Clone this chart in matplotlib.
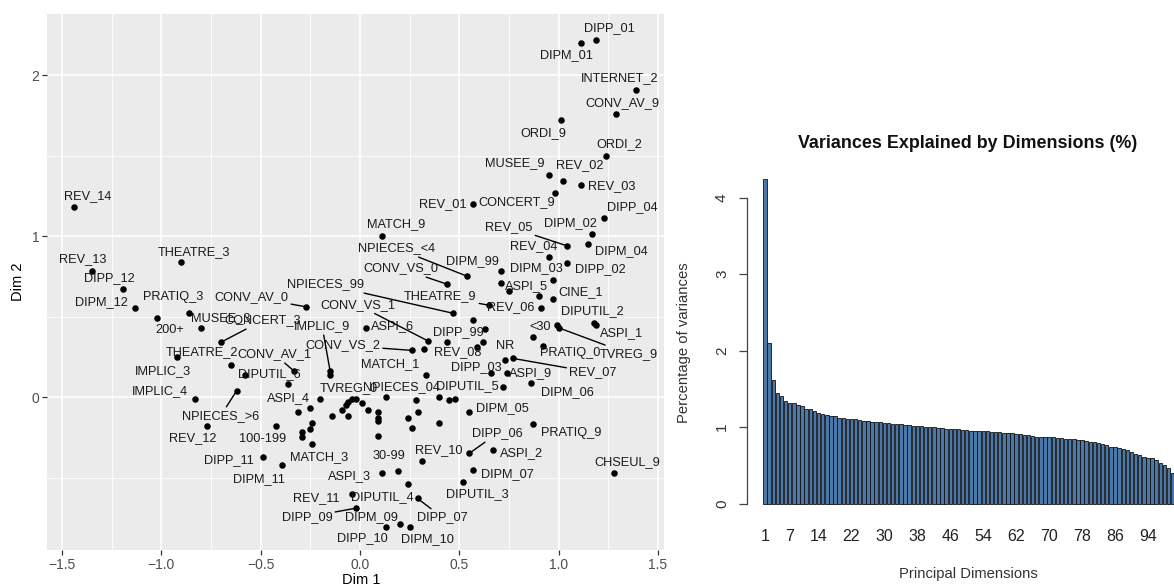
import matplotlib.pyplot as plt
from matplotlib.ticker import MultipleLocator

plt.rcParams['font.family'] = ['Liberation Sans', 'DejaVu Sans']

# Modalites projetees sur les dimensions 1 et 2
modalites = ["REV_14", "REV_13", "DIPP_12", "THEATRE_3", "DIPM_12", "200+", "PRATIQ_3", "MUSEE_3",
             "CONCERT_3", "CONV_AV_0", "THEATRE_2", "IMPLIC_3", "CONV_AV_1", "DIPUTIL_6", "IMPLIC_4",
             "NPIECES_>6", "REV_12", "100-199", "DIPP_11", "DIPM_11", "ASPI_4", "MATCH_3", "TVREG_0",
             "NPIECES_04", "DIPUTIL_5", "MATCH_1", "DIPP_03", "ASPI_9", "NR", "REV_07", "DIPM_06",
             "REV_08", "DIPP_99", "CONV_VS_2", "ASPI_6", "IMPLIC_9", "CONV_VS_1", "NPIECES_99",
             "THEATRE_9", "REV_06", "CONV_VS_0", "NPIECES_<4", "DIPM_99", "MATCH_9", "ASPI_5", "CINE_1",
             "DIPM_03", "DIPP_02", "REV_04", "DIPM_04", "DIPM_02", "REV_05", "DIPP_04", "REV_01",
             "CONCERT_9", "REV_03", "REV_02", "MUSEE_9", "ORDI_2", "ORDI_9", "CONV_AV_9", "INTERNET_2",
             "DIPM_01", "DIPP_01", "DIPUTIL_2", "ASPI_1", "<30", "TVREG_9", "PRATIQ_0", "DIPM_05",
             "PRATIQ_9", "DIPP_06", "REV_10", "ASPI_2", "CHSEUL_9", "DIPM_07", "DIPUTIL_3", "30-99",
             "ASPI_3", "REV_11", "DIPUTIL_4", "DIPP_07", "DIPP_09", "DIPM_09", "DIPP_10", "DIPM_10"]
dim1 = [-1.44, -1.35, -1.19, -0.90, -1.13, -1.02, -0.86, -0.80, -0.70, -0.27,
        -0.65, -0.92, -0.33, -0.36, -0.83, -0.62, -0.77, -0.42, -0.49, -0.39,
        -0.20, -0.24, -0.07, 0.13, 0.72, 0.33, 0.66, 0.74, 0.73, 0.77,
        0.86, 0.44, 0.63, 0.26, 0.03, -0.15, 0.34, 0.47, 0.65, 0.91,
        0.44, 0.54, 0.71, 0.11, 0.75, 0.97, 0.97, 1.04, 0.95, 1.15,
        1.17, 1.04, 1.23, 0.57, 0.98, 1.11, 1.02, 0.95, 1.24, 1.01,
        1.29, 1.39, 1.11, 1.19, 1.18, 1.19, 0.99, 1.00, 0.92, 0.55,
        0.87, 0.55, 0.31, 0.67, 1.28, 0.57, 0.52, 0.19, 0.11, -0.04,
        0.24, 0.29, -0.02, 0.20, 0.13, 0.25]
dim2 = [1.18, 0.78, 0.67, 0.84, 0.55, 0.49, 0.52, 0.43, 0.34, 0.56,
        0.20, 0.25, 0.16, 0.08, -0.01, 0.04, -0.18, -0.18, -0.37, -0.42,
        -0.01, -0.29, -0.05, 0.00, 0.06, 0.14, 0.15, 0.15, 0.23, 0.24,
        0.09, 0.34, 0.42, 0.29, 0.43, 0.16, 0.35, 0.52, 0.57, 0.55,
        0.70, 0.75, 0.78, 1.00, 0.66, 0.61, 0.73, 0.83, 0.87, 0.95,
        1.01, 0.94, 1.11, 1.20, 1.27, 1.32, 1.34, 1.38, 1.50, 1.72,
        1.76, 1.91, 2.20, 2.22, 0.46, 0.45, 0.45, 0.43, 0.32, -0.09,
        -0.17, -0.35, -0.40, -0.33, -0.47, -0.45, -0.53, -0.46, -0.47, -0.60,
        -0.54, -0.63, -0.69, -0.79, -0.81, -0.81]

# Modalites dont l'etiquette n'est pas affichee (chevauchement)
autres_dim1 = [-0.58, -0.15, 0.71, 0.90, 0.87, 0.57, 0.62, 0.59, 0.32, -0.31, -0.25, -0.24,
               -0.29, -0.25, -0.29, -0.14, -0.09, -0.06, -0.06, -0.04, -0.02, 0.01, 0.04, 0.09,
               0.09, 0.09, 0.09, 0.24, 0.26, 0.28, 0.29, 0.40, 0.40, 0.45, 0.48]
autres_dim2 = [0.14, 0.14, 0.71, 0.63, 0.37, 0.48, 0.34, 0.31, 0.30, -0.09, -0.07, -0.16,
               -0.22, -0.20, -0.25, -0.12, -0.08, -0.03, -0.12, -0.01, -0.01, -0.04, -0.08, -0.09,
               -0.13, -0.15, -0.24, -0.13, -0.19, -0.02, -0.09, 0.00, -0.16, -0.02, -0.01]

# Pourcentage de variance par dimension
variances = [4.24, 2.10, 1.62, 1.45, 1.41, 1.34, 1.32, 1.31, 1.29, 1.27,
             1.24, 1.23, 1.21, 1.19, 1.17, 1.16, 1.15, 1.14, 1.12, 1.115,
             1.11, 1.105, 1.10, 1.09, 1.085, 1.08, 1.07, 1.065, 1.06, 1.055,
             1.05, 1.045, 1.04, 1.035, 1.03, 1.025, 1.02, 1.015, 1.01, 1.005,
             1.00, 0.995, 0.99, 0.985, 0.98, 0.978, 0.975, 0.97, 0.965, 0.96,
             0.955, 0.952, 0.95, 0.948, 0.945, 0.94, 0.935, 0.93, 0.928, 0.925,
             0.92, 0.915, 0.91, 0.90, 0.89, 0.88, 0.875, 0.872, 0.87, 0.868,
             0.865, 0.86, 0.855, 0.85, 0.845, 0.84, 0.835, 0.83, 0.82, 0.81,
             0.80, 0.79, 0.775, 0.76, 0.745, 0.74, 0.73, 0.71, 0.70, 0.67,
             0.645, 0.63, 0.61, 0.60, 0.59, 0.57, 0.53, 0.51, 0.46, 0.40]
dims_affichees = [1, 7, 14, 22, 30, 38, 46, 54, 62, 70, 78, 86, 94]

# Placement des etiquettes (decalage en pixels) et segments, facon ggrepel
decalage = {
    "REV_14": (14, 11), "REV_13": (-9, 12), "DIPP_12": (-14, 11), "THEATRE_3": (13, 10),
    "DIPM_12": (-34, 6), "200+": (12, -12), "PRATIQ_3": (-16, 16), "MUSEE_3": (20, 10),
    "CONCERT_3": (42, 22), "CONV_AV_0": (-55, 10), "THEATRE_2": (-29, 13), "IMPLIC_3": (-14, -14),
    "CONV_AV_1": (-20, 17), "DIPUTIL_6": (-19, 10), "IMPLIC_4": (-35, 8), "NPIECES_>6": (-16, -25),
    "REV_12": (-14, -12), "100-199": (-14, -13), "DIPP_11": (-34, -3), "DIPM_11": (-24, -14),
    "ASPI_4": (-32, 1), "MATCH_3": (7, -13), "TVREG_0": (3, 17), "NPIECES_04": (16, 10),
    "DIPUTIL_5": (-36, 1), "MATCH_1": (-35, 10), "DIPP_03": (-15, 6), "ASPI_9": (24, 0),
    "NR": (0, 14), "REV_07": (80, -14), "DIPM_06": (37, -10), "REV_08": (10, -10),
    "DIPP_99": (-27, -3), "CONV_VS_2": (-69, 5), "ASPI_6": (27, 2), "IMPLIC_9": (-8, 45),
    "CONV_VS_1": (-70, 36), "NPIECES_99": (-128, 29), "THEATRE_9": (-49, 9), "REV_06": (-30, 1),
    "CONV_VS_0": (-47, 16), "NPIECES_<4": (-71, 28), "DIPM_99": (-29, 10), "MATCH_9": (14, 12),
    "ASPI_5": (18, 5), "CINE_1": (28, 7), "DIPM_03": (-16, 11), "DIPP_02": (34, -6),
    "REV_04": (-15, 11), "DIPM_04": (33, -7), "DIPM_02": (-22, 11), "REV_05": (-58, 19),
    "DIPP_04": (28, 11), "REV_01": (-30, 0), "CONCERT_9": (-38, -10), "REV_03": (31, -2),
    "REV_02": (17, 16), "MUSEE_9": (-34, 12), "ORDI_2": (13, 11), "ORDI_9": (-17, -13),
    "CONV_AV_9": (6, 11), "INTERNET_2": (-17, 11), "DIPM_01": (-14, -12), "DIPP_01": (13, 12),
    "DIPUTIL_2": (-2, 12), "ASPI_1": (25, -8), "<30": (-17, -2), "TVREG_9": (70, -26),
    "PRATIQ_0": (27, -7), "DIPM_05": (33, 3), "PRATIQ_9": (38, -9), "DIPP_06": (28, 20),
    "REV_10": (17, 11), "ASPI_2": (28, -3), "CHSEUL_9": (13, 11), "DIPM_07": (34, -5),
    "DIPUTIL_3": (14, -12), "30-99": (-9, 15), "ASPI_3": (-32, -3), "REV_11": (-36, -4),
    "DIPUTIL_4": (-25, -13), "DIPP_07": (25, -19), "DIPP_09": (-49, -9), "DIPM_09": (-28, 7),
    "DIPP_10": (-23, -11), "DIPM_10": (18, -12),
}
avec_segment = {"CONCERT_3", "CONV_AV_0", "CONV_AV_1", "NPIECES_>6", "REV_07", "CONV_VS_2",
                "IMPLIC_9", "CONV_VS_1", "NPIECES_99", "THEATRE_9", "CONV_VS_0", "NPIECES_<4",
                "REV_05", "TVREG_9", "DIPP_06", "DIPP_07", "DIPP_09"}

fig = plt.figure(figsize=(11.74, 5.88), dpi=100)

# --- Carte des modalites (style ggplot) ---
ax1 = fig.add_axes([0.0400, 0.0646, 0.5256, 0.9116])
ax1.set_facecolor('#EBEBEB')
for s in ax1.spines.values():
    s.set_visible(False)
ax1.set_xlim(-1.575, 1.530)
ax1.set_ylim(-0.950, 2.379)
ax1.xaxis.set_major_locator(MultipleLocator(0.5))
ax1.xaxis.set_minor_locator(MultipleLocator(0.25))
ax1.yaxis.set_major_locator(MultipleLocator(1))
ax1.yaxis.set_minor_locator(MultipleLocator(0.5))
ax1.grid(which='major', color='white', linewidth=1.2)
ax1.grid(which='minor', color='white', linewidth=0.6)
ax1.set_axisbelow(True)
ax1.tick_params(which='major', length=3.5, width=0.9, color='#333333',
                labelcolor='#4D4D4D', labelsize=10, pad=2)
ax1.tick_params(which='minor', length=0)

ax1.scatter(autres_dim1, autres_dim2, s=22, color='black', zorder=3, linewidths=0)
ax1.scatter(dim1, dim2, s=22, color='black', zorder=3, linewidths=0)
for nom, x, y in zip(modalites, dim1, dim2):
    dx, dy = decalage[nom]
    props = None
    if nom in avec_segment:
        props = dict(arrowstyle='-', color='black', lw=1.0, shrinkA=0, shrinkB=0)
    ax1.annotate(nom, (x, y), xytext=(dx, dy), textcoords='offset pixels',
                 ha='center', va='center', fontsize=9.2, color='#1A1A1A',
                 arrowprops=props, zorder=4)

ax1.set_xlabel('Dim 1', fontsize=10.5, color='black')
ax1.set_ylabel('Dim 2', fontsize=10.5, color='black')
ax1.xaxis.set_label_coords(0.509, -0.042)
ax1.yaxis.set_label_coords(-0.036, 0.5)

# --- Eboulis des valeurs propres (style R barplot) ---
ax2 = fig.add_axes([0.6363, 0.1241, 0.3637, 0.5867])
positions = [0.7 + 1.2 * i for i in range(len(variances))]
ax2.bar(positions, variances, width=1.0, color='#4A78A8', edgecolor='#111111', linewidth=0.6)
ax2.set_xlim(-4.55, 119.9)
ax2.set_ylim(-0.15, 4.36)
for side in ['top', 'right', 'bottom']:
    ax2.spines[side].set_visible(False)
ax2.spines['left'].set_bounds(0, 4)
ax2.spines['left'].set_color('#444444')
ax2.spines['left'].set_linewidth(0.9)
ax2.set_yticks([0, 1, 2, 3, 4])
ax2.tick_params(axis='y', length=6, width=0.9, color='#444444', labelsize=11,
                labelcolor='#333333', labelrotation=90, pad=7)
for lab in ax2.get_yticklabels():
    lab.set_va('center')
ax2.set_xticks([positions[d - 1] for d in dims_affichees])
ax2.set_xticklabels([str(d) for d in dims_affichees])
ax2.tick_params(axis='x', length=0, labelsize=11.5, labelcolor='#222222', pad=10)
ax2.set_ylabel('Percentage of variances', fontsize=10.7, color='#333333')
ax2.yaxis.set_label_coords(-0.131, 0.4986)
ax2.set_xlabel('Principal Dimensions', fontsize=10.6, color='#333333')
ax2.xaxis.set_label_coords(0.5176, -0.151)
fig.text(968 / 1174, 1 - 143 / 588, 'Variances Explained by Dimensions (%)',
         ha='center', va='center', fontsize=12.9, fontweight='bold', color='#111111')

fig.savefig('out.png', dpi=100)
